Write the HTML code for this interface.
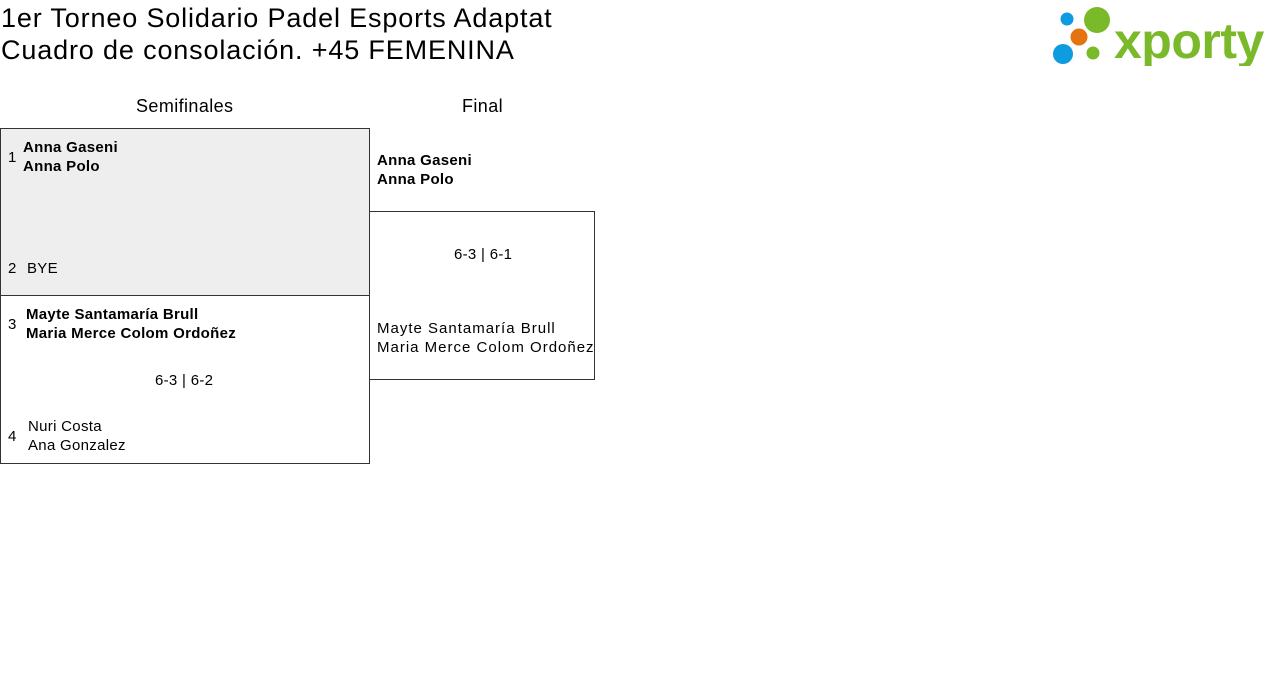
<!DOCTYPE html>
<html><head><meta charset="utf-8"><style>
*{margin:0;padding:0;box-sizing:border-box}
body{width:1280px;height:694px;background:#fff;position:relative;font-family:"Liberation Sans",sans-serif;color:#000;overflow:hidden}
.a{position:absolute;white-space:nowrap}
.t{font-size:27px;line-height:32px;left:1px;letter-spacing:0.85px}
.s{font-size:15px;line-height:19px;letter-spacing:0.3px}
.b{font-weight:bold}
.h{font-size:18px;letter-spacing:0.4px}
.box{position:absolute;border:1px solid #333}
</style></head><body>
<div class="a t" style="top:2px">1er Torneo Solidario Padel Esports Adaptat</div>
<div class="a t" style="top:34px">Cuadro de consolación. +45 FEMENINA</div>

<svg class="a" style="left:1050px;top:4px" width="226" height="62">
<circle cx="47" cy="16" r="13" fill="#7ab92a"/>
<circle cx="17" cy="15" r="6.5" fill="#0e9be0"/>
<circle cx="29" cy="33" r="8.5" fill="#e5730f"/>
<circle cx="13" cy="50" r="10" fill="#0e9be0"/>
<circle cx="43" cy="49" r="6.5" fill="#7ab92a"/>
<text x="64" y="54" font-family="Liberation Sans" font-weight="bold" font-size="50" fill="#7ab92a" letter-spacing="-0.5">xporty</text>
</svg>

<div class="a h" style="left:136px;top:96px">Semifinales</div>
<div class="a h" style="left:462px;top:96px">Final</div>

<div class="box" style="left:0;top:128px;width:370px;height:168px;background:#eee"></div>
<div class="box" style="left:0;top:295px;width:370px;height:169px"></div>
<div class="box" style="left:369px;top:211px;width:226px;height:169px"></div>

<div class="a s" style="left:8px;top:148px">1</div>
<div class="a s b" style="left:23px;top:138px">Anna Gaseni<br>Anna Polo</div>
<div class="a s" style="left:8px;top:259px">2</div>
<div class="a s" style="left:27px;top:259px">BYE</div>

<div class="a s" style="left:8px;top:315px">3</div>
<div class="a s b" style="left:26px;top:305px">Mayte Santamaría Brull<br>Maria Merce Colom Ordoñez</div>
<div class="a s" style="left:155px;top:371px">6-3 | 6-2</div>
<div class="a s" style="left:8px;top:427px">4</div>
<div class="a s" style="left:28px;top:417px">Nuri Costa<br>Ana Gonzalez</div>

<div class="a s b" style="left:377px;top:151px">Anna Gaseni<br>Anna Polo</div>
<div class="a s" style="left:454px;top:245px">6-3 | 6-1</div>
<div class="a s" style="left:377px;top:319px;letter-spacing:1px">Mayte Santamaría Brull<br>Maria Merce Colom Ordoñez</div>
</body></html>
